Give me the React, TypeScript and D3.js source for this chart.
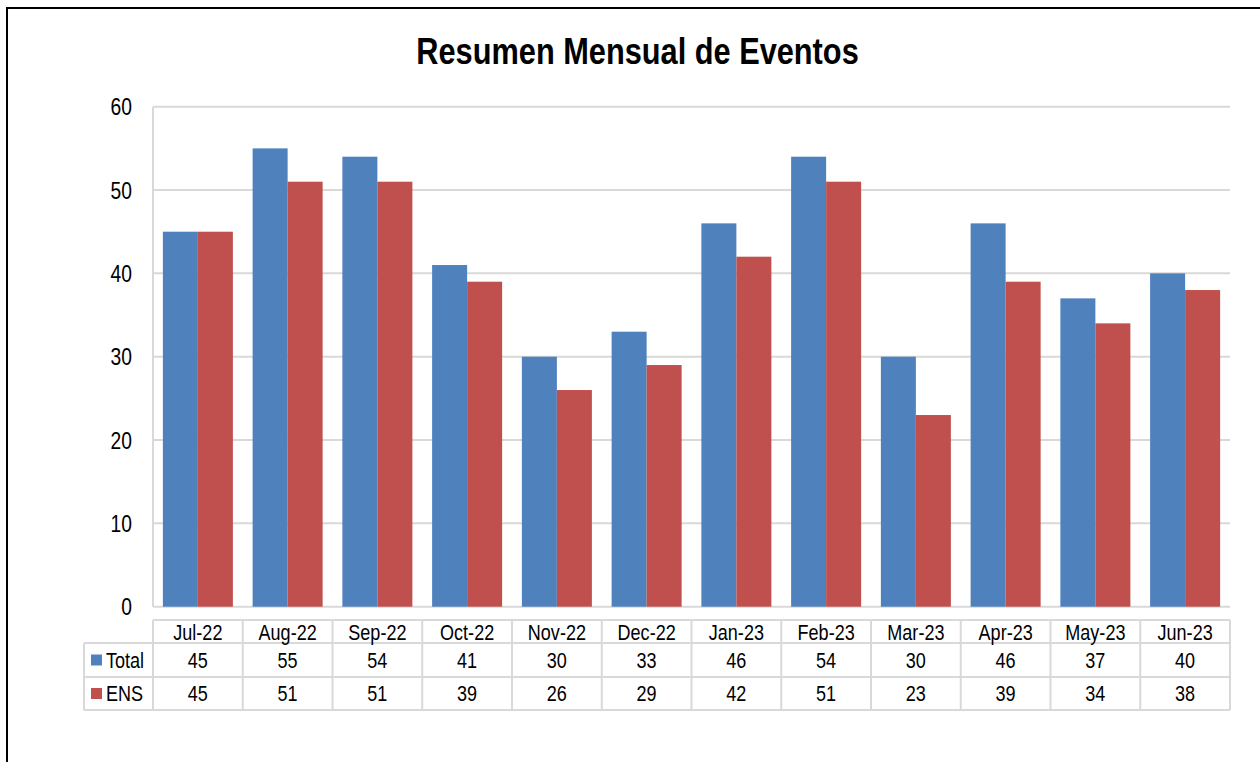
import React, { useEffect, useRef } from 'react';
import * as d3 from 'd3';

const months = ['Jul-22', 'Aug-22', 'Sep-22', 'Oct-22', 'Nov-22', 'Dec-22', 'Jan-23', 'Feb-23', 'Mar-23', 'Apr-23', 'May-23', 'Jun-23'];
const totalValues = [45, 55, 54, 41, 30, 33, 46, 54, 30, 46, 37, 40];
const ensValues = [45, 51, 51, 39, 26, 29, 42, 51, 23, 39, 34, 38];
const seriesNames = ['Total', 'ENS'];
const yTicks = [0, 10, 20, 30, 40, 50, 60];

// no Arial Narrow here: squeeze Liberation Sans horizontally instead
const FONT = '"Liberation Sans", Arial, sans-serif';
const NARROW = 0.82;

const App: React.FC = () => {
  const svgRef = useRef<SVGSVGElement>(null);

  useEffect(() => {
    const svg = d3.select(svgRef.current);
    svg.selectAll('*').remove();

    const width = 1260;
    const height = 762;
    const left = 153;
    const right = 1230;
    const top = 106.7;
    const bottom = 606.7;
    const gridColor = '#d9d9d9';
    const colors = ['#4f81bd', '#c0504d'];
    const series = [totalValues, ensValues];

    svg.attr('width', width).attr('height', height);

    const label = (
      g: d3.Selection<any, any, any, any>,
      tx: number, ty: number, txt: string | number,
      size: number, anchor = 'middle', weight = 'normal'
    ) => g.append('text')
      .attr('transform', `translate(${tx},${ty}) scale(${NARROW},1)`)
      .attr('dy', '0.36em')
      .attr('text-anchor', anchor)
      .attr('font-family', FONT)
      .attr('font-weight', weight)
      .attr('font-size', size)
      .attr('fill', 'black')
      .text(txt);

    // chart border
    svg.append('rect')
      .attr('x', 7).attr('y', 8)
      .attr('width', 1300).attr('height', 800)
      .attr('fill', 'white')
      .attr('stroke', 'black')
      .attr('stroke-width', 2);

    // title
    label(svg, 637.5, 50, 'Resumen Mensual de Eventos', 37.5, 'middle', 'bold');

    const x = d3.scaleBand<string>().domain(months).range([left, right]).padding(0);
    const xInner = d3.scaleBand<string>().domain(seriesNames).range([0, x.bandwidth()]).paddingInner(0).paddingOuter(0.282);
    const y = d3.scaleLinear().domain([0, 60]).range([bottom, top]);

    // gridlines
    svg.append('g').selectAll('line')
      .data(yTicks)
      .enter()
      .append('line')
      .attr('x1', left).attr('x2', right)
      .attr('y1', d => y(d)).attr('y2', d => y(d))
      .attr('stroke', gridColor)
      .attr('stroke-width', 2);

    svg.append('line')
      .attr('x1', left).attr('x2', left)
      .attr('y1', top).attr('y2', bottom)
      .attr('stroke', gridColor)
      .attr('stroke-width', 2);

    // y tick labels
    const yg = svg.append('g');
    yTicks.forEach(t => label(yg, 132, y(t), t, 23.5, 'end'));

    // bars
    series.forEach((vals, si) => {
      svg.append('g').selectAll('rect')
        .data(vals)
        .enter()
        .append('rect')
        .attr('x', (_, i) => (x(months[i]) as number) + (xInner(seriesNames[si]) as number))
        .attr('y', d => y(d))
        .attr('width', xInner.bandwidth())
        .attr('height', d => bottom - y(d))
        .attr('fill', colors[si]);
    });

    // data table
    const rowHeader = [620, 643];
    const rows = [[643, 677], [677, 710]];
    const tableLeft = 84;
    const tg = svg.append('g').attr('stroke', gridColor).attr('stroke-width', 2);

    tg.append('line').attr('x1', left).attr('x2', right).attr('y1', rowHeader[0]).attr('y2', rowHeader[0]);
    [643, 677, 710].forEach(yy => {
      tg.append('line').attr('x1', tableLeft).attr('x2', right).attr('y1', yy).attr('y2', yy);
    });
    tg.append('line').attr('x1', tableLeft).attr('x2', tableLeft).attr('y1', 643).attr('y2', 710);
    months.forEach(m => {
      const xx = x(m) as number;
      tg.append('line').attr('x1', xx).attr('x2', xx).attr('y1', rowHeader[0]).attr('y2', 710);
    });
    tg.append('line').attr('x1', right).attr('x2', right).attr('y1', rowHeader[0]).attr('y2', 710);

    // header labels
    const hg = svg.append('g');
    months.forEach(m => label(hg, (x(m) as number) + x.bandwidth() / 2, (rowHeader[0] + rowHeader[1]) / 2 + 0.5, m, 22));

    series.forEach((vals, si) => {
      const cy = (rows[si][0] + rows[si][1]) / 2;
      svg.append('rect')
        .attr('x', 91).attr('y', cy - 5.5)
        .attr('width', 11).attr('height', 11)
        .attr('fill', colors[si]);
      const rg = svg.append('g');
      label(rg, 106, cy, seriesNames[si], 22, 'start');
      vals.forEach((v, i) => label(rg, (x(months[i]) as number) + x.bandwidth() / 2, cy, v, 22));
    });
  }, []);

  return (
    <svg ref={svgRef} style={{ position: 'absolute', left: 0, top: 0, display: 'block' }}></svg>
  );
};

export default App;
